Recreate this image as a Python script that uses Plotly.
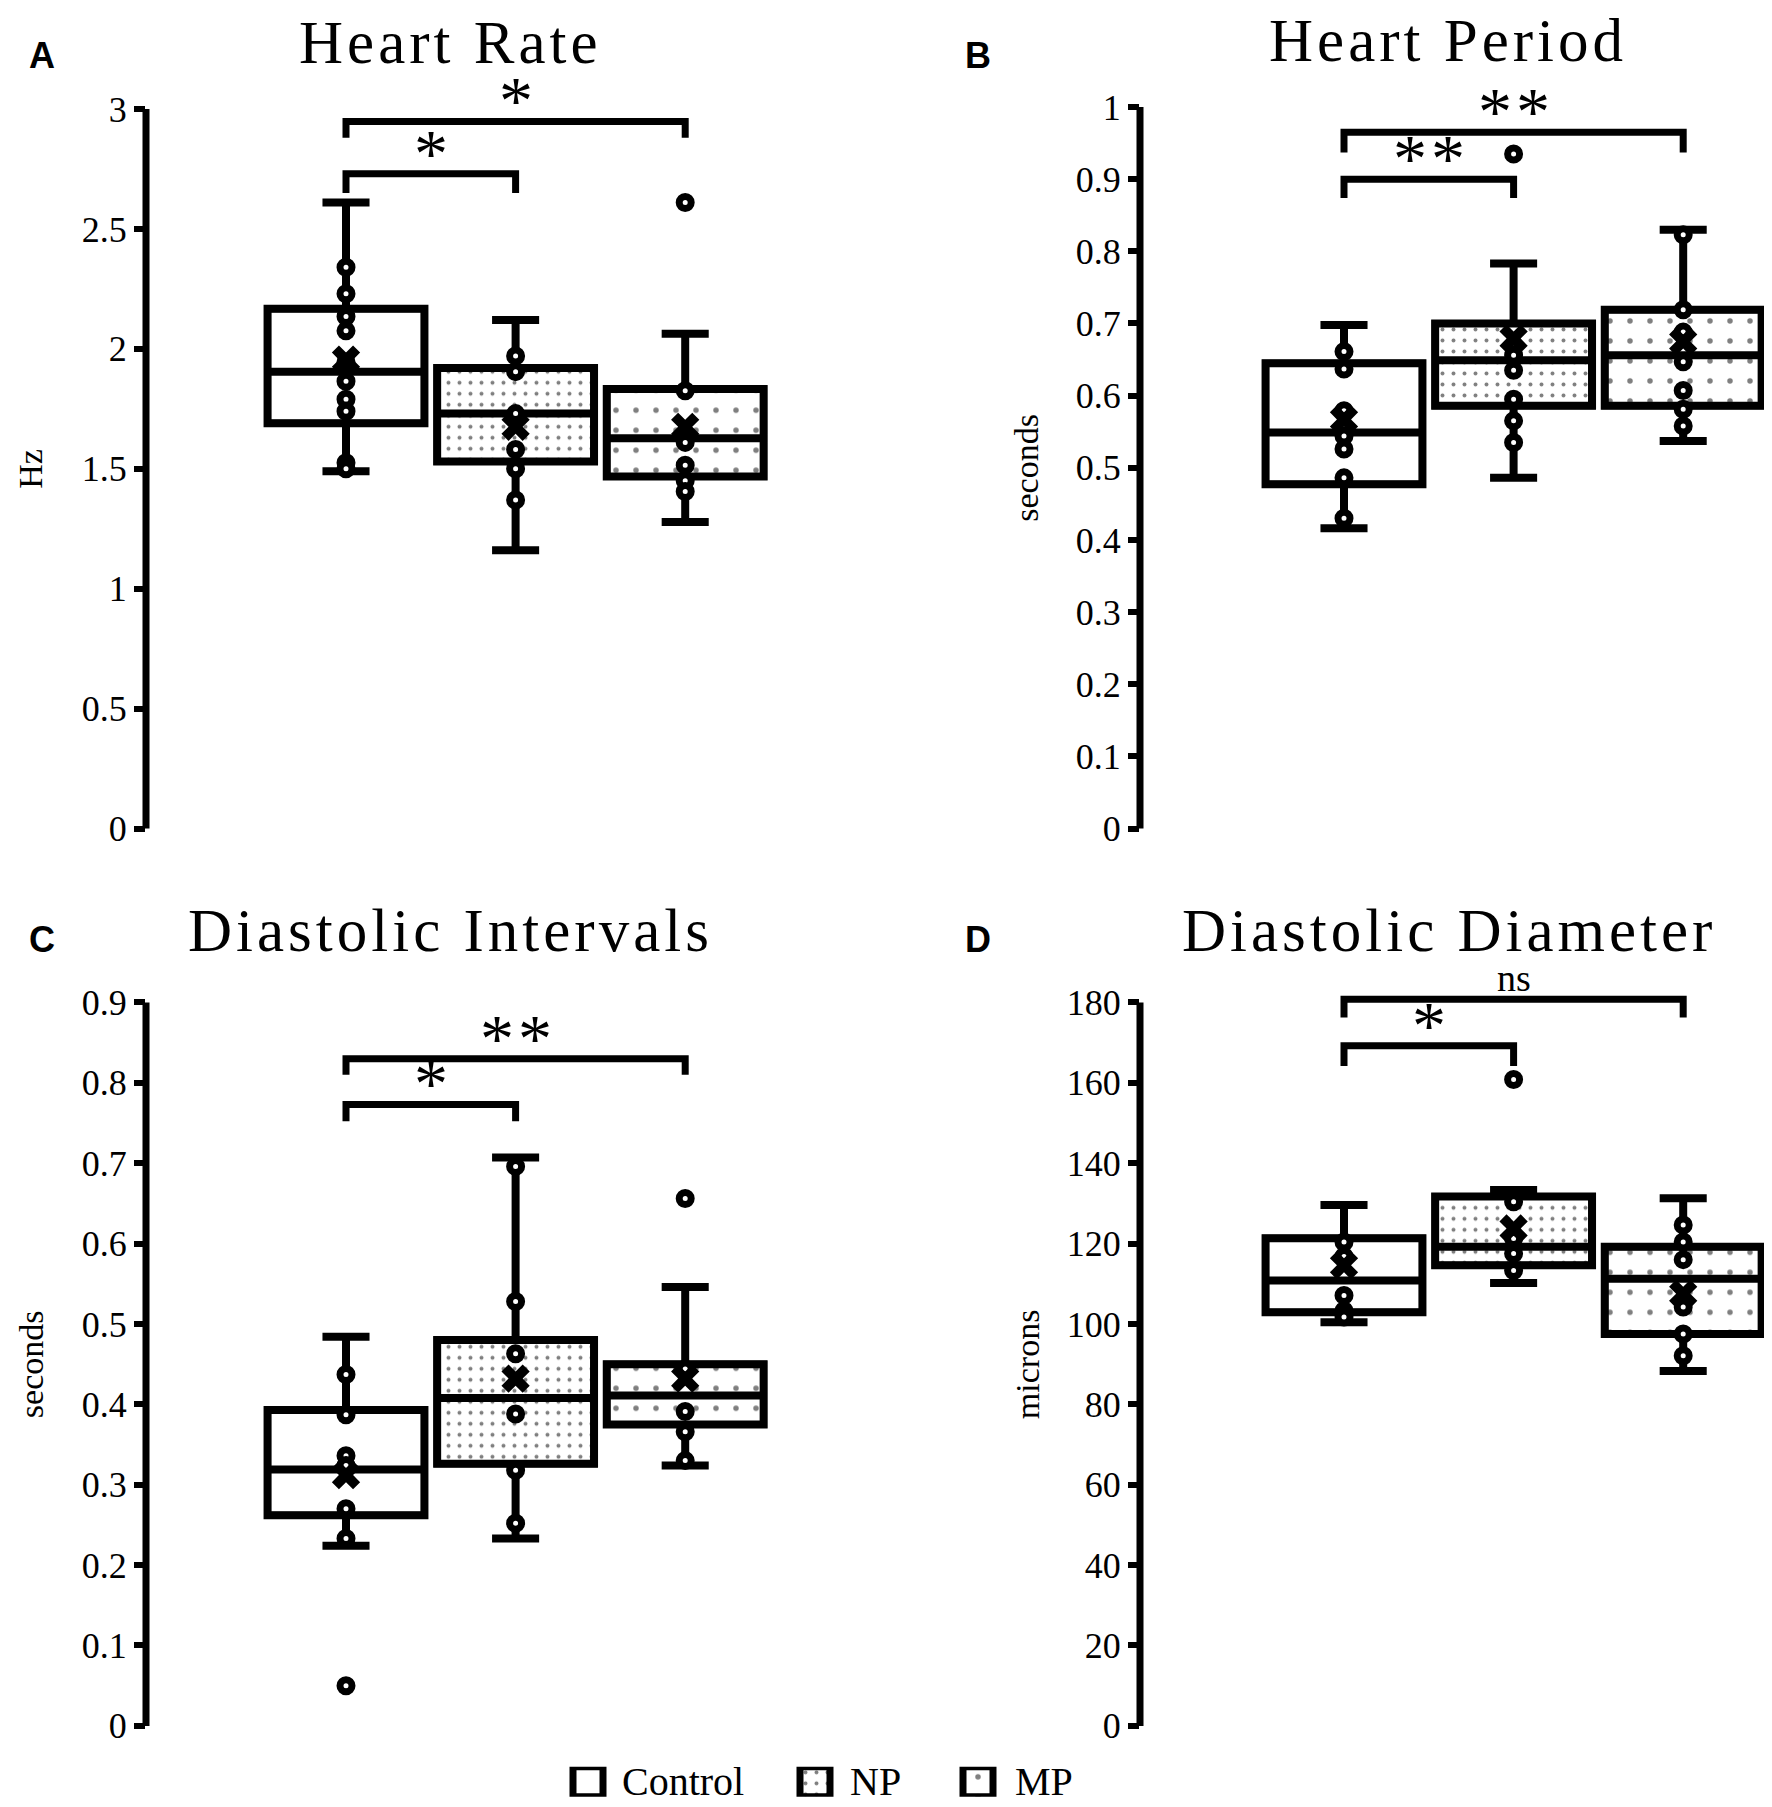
import plotly.graph_objects as go

# the page adds an 8px body margin, so the figure is drawn a bit smaller and
# all reference pixel positions are shifted by OFF; SY corrects a slight
# vertical squeeze seen in the rendered picture
OFF = 8
SY = 1.011
W, H = 1772 - 2 * OFF, 1815

groups = ["Control", "NP", "MP"]
patterns = ["", ".", "."]
pattern_sizes = [8, 11, 20]
pattern_solidity = [0.2, 0.1, 0.06]

# Heart Rate (Hz)
hr_q1 = [1.69, 1.53, 1.468]
hr_median = [1.905, 1.73, 1.627]
hr_q3 = [2.167, 1.92, 1.833]
hr_low = [1.49, 1.16, 1.278]
hr_high = [2.61, 2.12, 2.063]
hr_mean = [1.955, 1.675, 1.675]
hr_points = [
    [2.34, 2.23, 2.135, 2.075, 1.945, 1.865, 1.79, 1.74, 1.525, 1.50],
    [1.97, 1.905, 1.73, 1.58, 1.50, 1.37],
    [2.61, 1.825, 1.61, 1.515, 1.45, 1.405],
]

# Heart Period (seconds)
hp_q1 = [0.477, 0.586, 0.586]
hp_median = [0.549, 0.649, 0.656]
hp_q3 = [0.645, 0.70, 0.719]
hp_low = [0.416, 0.486, 0.537]
hp_high = [0.698, 0.783, 0.83]
hp_mean = [0.567, 0.679, 0.675]
hp_points = [
    [0.661, 0.637, 0.579, 0.544, 0.526, 0.486, 0.43],
    [0.935, 0.656, 0.635, 0.595, 0.565, 0.535],
    [0.823, 0.719, 0.688, 0.647, 0.607, 0.581, 0.558],
]

# Diastolic Intervals (seconds)
di_q1 = [0.262, 0.326, 0.375]
di_median = [0.319, 0.408, 0.411]
di_q3 = [0.393, 0.48, 0.45]
di_low = [0.224, 0.233, 0.324]
di_high = [0.484, 0.707, 0.546]
di_mean = [0.312, 0.432, 0.432]
di_points = [
    [0.437, 0.387, 0.336, 0.324, 0.27, 0.233, 0.05],
    [0.696, 0.528, 0.463, 0.388, 0.318, 0.252],
    [0.656, 0.444, 0.391, 0.366, 0.33],
]

# Diastolic Diameter (microns)
dd_q1 = [102.9, 114.6, 97.5]
dd_median = [110.8, 119.2, 111.25]
dd_q3 = [121.3, 131.7, 119.2]
dd_low = [100.4, 110.2, 88.3]
dd_high = [129.6, 133.3, 131.25]
dd_mean = [114.6, 123.75, 107.5]
dd_points = [
    [120.4, 116.8, 107.1, 103.3, 101.7],
    [160.8, 130.4, 121.25, 117.5, 113.3],
    [124.6, 120.4, 116.0, 104.2, 97.5, 92.1],
]

# significance brackets: (from group, to group, bar y, tip y, label)
hr_sig = [(0, 1, 2.73, 2.65, "*"), (0, 2, 2.948, 2.88, "*")]
hp_sig = [(0, 1, 0.90, 0.874, "**"), (0, 2, 0.965, 0.937, "**")]
di_sig = [(0, 1, 0.773, 0.752, "*"), (0, 2, 0.83, 0.81, "**")]
dd_sig = [(0, 1, 169.2, 164.2, "*"), (0, 2, 180.8, 176.25, "ns")]

panels = [
    dict(letter="A", title="Heart Rate", ylab="Hz", top=3, dtick=0.5, ymax=3.12,
         q1=hr_q1, med=hr_median, q3=hr_q3, lo=hr_low, hi=hr_high, mean=hr_mean,
         pts=hr_points, sig=hr_sig,
         axis_px=146, ctrl_px=346, right_px=800, y0_px=829, ytop_px=109,
         title_xy=(450, 42), letter_xy=(42, 55), ylab_x=31),
    dict(letter="B", title="Heart Period", ylab="seconds", top=1, dtick=0.1, ymax=1.05,
         q1=hp_q1, med=hp_median, q3=hp_q3, lo=hp_low, hi=hp_high, mean=hp_mean,
         pts=hp_points, sig=hp_sig,
         axis_px=1140, ctrl_px=1344, right_px=1764, y0_px=829, ytop_px=107,
         title_xy=(1448, 40), letter_xy=(978, 55), ylab_x=1027),
    dict(letter="C", title="Diastolic Intervals", ylab="seconds", top=0.9, dtick=0.1, ymax=0.93,
         q1=di_q1, med=di_median, q3=di_q3, lo=di_low, hi=di_high, mean=di_mean,
         pts=di_points, sig=di_sig,
         axis_px=146, ctrl_px=346, right_px=800, y0_px=1727, ytop_px=1003,
         title_xy=(450, 931), letter_xy=(42, 940), ylab_x=31),
    dict(letter="D", title="Diastolic Diameter", ylab="microns", top=180, dtick=20, ymax=185,
         q1=dd_q1, med=dd_median, q3=dd_q3, lo=dd_low, hi=dd_high, mean=dd_mean,
         pts=dd_points, sig=dd_sig,
         axis_px=1140, ctrl_px=1344, right_px=1764, y0_px=1727, ytop_px=1003,
         title_xy=(1449, 931), letter_xy=(978, 940), ylab_x=1027),
]

# legend swatch centres and label starts (reference pixels)
legend_swatch_x = [588, 815, 978]
legend_text_x = [626, 854, 1019]
legend_y = (1768, 1798)

UNIT_PX = 169.6
BOX_W = 0.925
LW = 7
SERIF = "Liberation Serif, Times New Roman, serif"
SANS = "Liberation Sans, Arial, sans-serif"


def fx(px):
    return (px - OFF) / W


def fy(py):
    return max(0.0, 1 - (py * SY - OFF) / H)


def group_marker(i):
    return dict(color="white", line=dict(color="black", width=LW),
                pattern=dict(shape=patterns[i], fgcolor="black", bgcolor="white",
                             size=pattern_sizes[i], solidity=pattern_solidity[i]))


fig = go.Figure()
layout = dict(
    width=W, height=H,
    margin=dict(l=0, r=0, t=0, b=0),
    paper_bgcolor="white", plot_bgcolor="white",
    barmode="overlay", boxmode="overlay",
    showlegend=False,
    font=dict(family=SERIF, color="black"),
)
annotations = []
shapes = []

for k, p in enumerate(panels):
    n = k + 1
    xa = "x" if n == 1 else f"x{n}"
    ya = "y" if n == 1 else f"y{n}"
    xl = "xaxis" if n == 1 else f"xaxis{n}"
    yl = "yaxis" if n == 1 else f"yaxis{n}"

    xr = [-(p["ctrl_px"] - p["axis_px"]) / UNIT_PX, (p["right_px"] - p["ctrl_px"]) / UNIT_PX]
    span = p["y0_px"] - p["ytop_px"]
    top_px = p["y0_px"] - p["ymax"] / p["top"] * span
    layout[xl] = dict(domain=[fx(p["axis_px"]), fx(p["right_px"])], range=xr,
                      visible=False, fixedrange=True)
    layout[yl] = dict(domain=[fy(p["y0_px"]), fy(top_px)], range=[0, p["ymax"]],
                      dtick=p["dtick"], tick0=0, ticks="outside", ticklen=11, tickwidth=6,
                      tickcolor="black", showline=False, showgrid=False, zeroline=False,
                      tickfont=dict(family=SERIF, size=36, color="black"), anchor=xa)

    # axis line from 0 to the top tick
    shapes.append(dict(type="line", xref=f"{xa} domain", yref=ya, x0=0, x1=0,
                       y0=-p["top"] * 0.004, y1=p["top"], line=dict(color="black", width=LW)))

    for i, g in enumerate(groups):
        fig.add_trace(go.Bar(
            x=[i], y=[p["q3"][i] - p["q1"][i]], base=[p["q1"][i]], width=BOX_W,
            name=g, marker=group_marker(i), xaxis=xa, yaxis=ya, hoverinfo="skip"))
        fig.add_trace(go.Box(
            x=[i], q1=[p["q1"][i]], median=[p["med"][i]], q3=[p["q3"][i]],
            lowerfence=[p["lo"][i]], upperfence=[p["hi"][i]], width=BOX_W,
            whiskerwidth=0.3, fillcolor="rgba(0,0,0,0)", boxpoints=False,
            line=dict(color="black", width=LW + 1),
            xaxis=xa, yaxis=ya, hoverinfo="skip"))

    for i, g in enumerate(groups):
        fig.add_trace(go.Scatter(
            x=[i] * len(p["pts"][i]), y=p["pts"][i], mode="markers",
            marker=dict(symbol="circle", size=12, color="white",
                        line=dict(color="black", width=7)),
            xaxis=xa, yaxis=ya, hoverinfo="skip", cliponaxis=False))
    fig.add_trace(go.Scatter(
        x=list(range(len(groups))), y=p["mean"], mode="markers",
        marker=dict(symbol="x", size=25, color="black", line=dict(width=0)),
        xaxis=xa, yaxis=ya, hoverinfo="skip"))

    for a, b, ybar, ytip, lab in p["sig"]:
        fig.add_trace(go.Scatter(
            x=[a, a, b, b], y=[ytip, ybar, ybar, ytip], mode="lines",
            line=dict(color="black", width=LW), xaxis=xa, yaxis=ya, hoverinfo="skip"))
        if lab == "ns":
            annotations.append(dict(
                x=(a + b) / 2, y=ybar, xref=xa, yref=ya, text=lab, showarrow=False,
                xanchor="center", yanchor="bottom", yshift=-2,
                font=dict(family=SERIF, size=38, color="black")))
        else:
            annotations.append(dict(
                x=(a + b) / 2, y=ybar, xref=xa, yref=ya, showarrow=False,
                text=f'<span style="letter-spacing:4px">{lab}</span>',
                xanchor="center", yanchor="bottom", yshift=-19, xshift=2,
                font=dict(family=SERIF, size=68, color="black")))

    tx, ty = p["title_xy"]
    annotations.append(dict(
        x=fx(tx), y=fy(ty), xref="paper", yref="paper", showarrow=False,
        text=f'<span style="letter-spacing:4px">{p["title"]}</span>',
        xanchor="center", yanchor="middle",
        font=dict(family=SERIF, size=61, color="black")))
    lx, ly = p["letter_xy"]
    annotations.append(dict(
        x=fx(lx), y=fy(ly), xref="paper", yref="paper", showarrow=False,
        text=f"<b>{p['letter']}</b>", xanchor="center", yanchor="middle",
        font=dict(family=SANS, size=36, color="black")))
    annotations.append(dict(
        x=fx(p["ylab_x"]), y=fy((p["y0_px"] + p["ytop_px"]) / 2), xref="paper",
        yref="paper", showarrow=False, text=p["ylab"], textangle=-90,
        xanchor="center", yanchor="middle",
        font=dict(family=SERIF, size=34, color="black")))

# legend: large patterned swatches in their own small axes
layout["xaxis5"] = dict(domain=[0, 1], range=[OFF, OFF + W], visible=False, fixedrange=True)
layout["yaxis5"] = dict(domain=[fy(legend_y[1]), fy(legend_y[0])], range=[0, 1],
                        visible=False, fixedrange=True, anchor="x5")
for i, g in enumerate(groups):
    fig.add_trace(go.Bar(
        x=[legend_swatch_x[i]], y=[1], base=[0], width=30, marker=group_marker(i),
        xaxis="x5", yaxis="y5", hoverinfo="skip"))
    annotations.append(dict(
        x=legend_text_x[i], y=0.5, xref="x5", yref="y5", text=g, showarrow=False,
        xanchor="left", yanchor="middle", xshift=-6,
        font=dict(family=SERIF, size=40, color="black")))

layout["annotations"] = annotations
layout["shapes"] = shapes
fig.update_layout(**layout)

fig.write_html("out.html")
